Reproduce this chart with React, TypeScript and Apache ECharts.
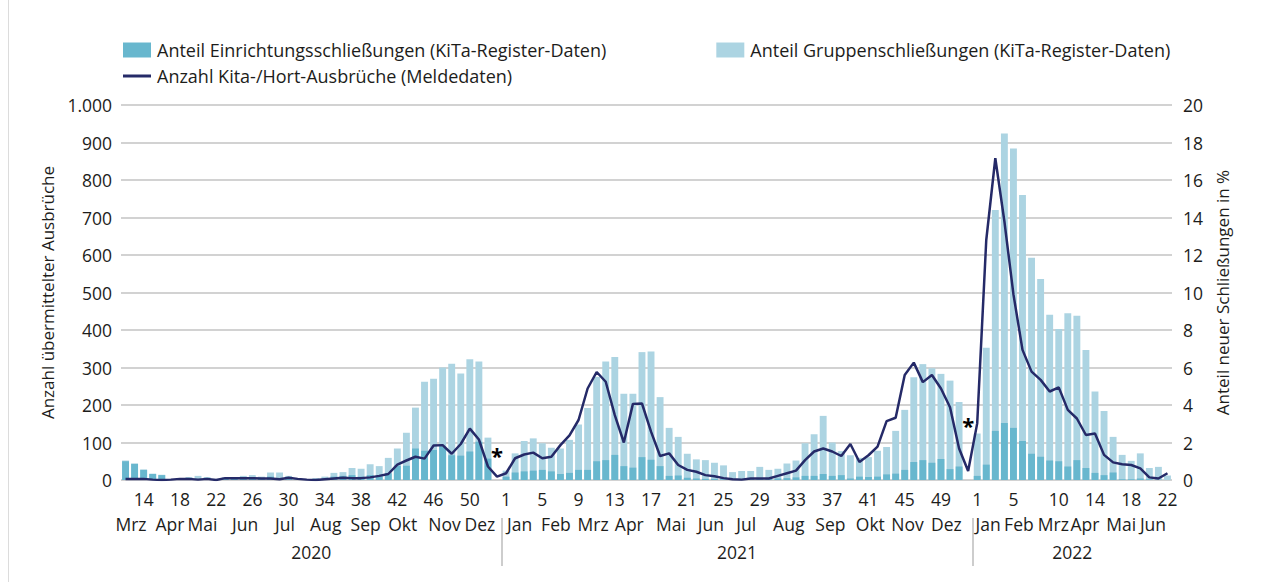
import React, { useEffect, useRef } from 'react';
import * as echarts from 'echarts';

// ---- categories: ISO calendar weeks ----
const yearSpans = [
  { year: 2020, first: 12, last: 53 },
  { year: 2021, first: 1, last: 52 },
  { year: 2022, first: 1, last: 22 },
];
const categories: string[] = [];
yearSpans.forEach((s) => {
  for (let w = s.first; w <= s.last; w++) categories.push(`${w}/${s.year}`);
});

// week tick labels shown on the axis
const weekTickLabels = [
  '14/2020', '18/2020', '22/2020', '26/2020', '30/2020', '34/2020', '38/2020', '42/2020', '46/2020', '50/2020',
  '1/2021', '5/2021', '9/2021', '13/2021', '17/2021', '21/2021', '25/2021', '29/2021', '33/2021', '37/2021', '41/2021', '45/2021', '49/2021',
  '1/2022', '5/2022', '10/2022', '14/2022', '18/2022', '22/2022',
];

// month labels (position in weeks from start of series)
const monthNames = [
  'Mrz', 'Apr', 'Mai', 'Jun', 'Jul', 'Aug', 'Sep', 'Okt', 'Nov', 'Dez',
  'Jan', 'Feb', 'Mrz', 'Apr', 'Mai', 'Jun', 'Jul', 'Aug', 'Sep', 'Okt', 'Nov', 'Dez',
  'Jan', 'Feb', 'Mrz', 'Apr', 'Mai', 'Jun',
];
const monthPositions = [
  1.1, 5.4, 9.0, 13.7, 18.1, 22.6, 27.0, 31.1, 35.7, 39.6,
  44.0, 48.0, 52.1, 56.1, 60.7, 65.1, 69.0, 73.7, 78.3, 82.7, 86.8, 91.1,
  95.7, 99.1, 102.9, 106.4, 110.4, 113.9,
];
const yearNames = ['2020', '2021', '2022'];
const yearPositions = [21, 68, 105];
const yearSeparators = [42, 94];

// ---- series values ----
// Anteil Einrichtungsschließungen in % (KiTa-Register)
const facilityShare2020 = [1.0, 0.86, 0.54, 0.32, 0.26, 0, 0.04, 0.08, 0.06, 0.06, 0.02, 0.06, 0.06, 0.08, 0.1, 0.08, 0.18, 0.1, 0.1, 0.02, 0, 0.04, 0.06, 0.18, 0.22, 0.26, 0.18, 0.26, 0.2, 0.36, 0.76, 0.76, 1.68, 1.56, 1.6, 1.8, 1.32, 1.3, 1.52, 2.04, 1.14, null];
const facilityShare2021 = [0.18, 0.4, 0.46, 0.5, 0.54, 0.46, 0.32, 0.38, 0.54, 0.54, 1.0, 1.06, 1.34, 0.74, 0.66, 1.22, 1.08, 0.74, 0.22, 0.24, 0.12, 0.08, 0.06, 0.06, 0.04, 0.04, 0.04, 0.06, 0.06, 0.06, 0.08, 0.1, 0.14, 0.22, 0.22, 0.32, 0.22, 0.26, 0.08, 0.18, 0.16, 0.18, 0.3, 0.34, 0.54, 0.96, 1.06, 0.92, 1.12, 0.58, 0.72, null];
const facilityShare2022 = [0.22, 0.82, 2.62, 3.04, 2.78, 2.08, 1.4, 1.24, 1.04, 1.0, 0.72, 1.06, 0.64, 0.38, 0.26, 0.4, 0.04, 0.04, 0.08, 0.04, 0.02, 0];

// Anteil Gruppenschließungen in % (KiTa-Register)
const groupShare2020 = [1.04, 0.88, 0.56, 0.34, 0.28, 0.04, 0.1, 0.16, 0.22, 0.16, 0.06, 0.14, 0.14, 0.22, 0.26, 0.18, 0.4, 0.4, 0.22, 0.06, 0.02, 0.1, 0.18, 0.38, 0.42, 0.64, 0.6, 0.84, 0.74, 1.18, 1.68, 2.52, 3.86, 5.24, 5.4, 6.0, 6.2, 5.68, 6.44, 6.32, 2.26, null];
const groupShare2021 = [0.5, 1.42, 2.08, 2.22, 1.96, 1.72, 1.68, 2.14, 2.96, 3.84, 5.5, 6.32, 6.56, 4.6, 4.6, 6.82, 6.86, 4.42, 2.78, 2.3, 1.4, 1.1, 1.06, 0.92, 0.78, 0.42, 0.48, 0.48, 0.7, 0.54, 0.6, 0.88, 1.04, 1.96, 2.44, 3.42, 2.0, 1.54, 1.32, 1.18, 1.22, 1.56, 1.76, 2.62, 3.74, 5.48, 6.18, 5.96, 5.66, 5.3, 4.16, null];
const groupShare2022 = [2.48, 7.06, 14.4, 18.48, 17.68, 15.2, 11.86, 10.72, 8.82, 8.06, 8.9, 8.76, 6.94, 4.72, 3.68, 2.3, 1.34, 1.02, 1.42, 0.64, 0.7, 0.24];

// Anzahl Kita-/Hort-Ausbrüche (Meldedaten)
const outbreaks2020 = [3, 3, 3, 1, 0, 1, 3, 3, 1, 3, 0, 5, 5, 5, 5, 4, 4, 2, 6, 3, 1, 0, 2, 4, 6, 5, 5, 7, 11, 16, 41, 52, 62, 57, 92, 93, 70, 96, 137, 108, 36, 9];
const outbreaks2021 = [18, 58, 68, 73, 58, 62, 93, 119, 160, 244, 288, 262, 173, 100, 203, 204, 129, 64, 71, 40, 27, 22, 13, 10, 5, 2, 1, 4, 4, 4, 11, 18, 25, 53, 76, 84, 76, 64, 96, 48, 66, 89, 157, 166, 280, 313, 261, 280, 244, 194, 84, 24];
const outbreaks2022 = [151, 640, 858, 690, 495, 347, 289, 267, 236, 247, 187, 164, 120, 124, 67, 47, 42, 40, 31, 7, 4, 18];

// asterisk annotations (category, left-axis value)
const asteriskMarks = [
  { category: '53/2020', value: 67 },
  { category: '52/2021', value: 147 },
];

const facilityShare = [...facilityShare2020, ...facilityShare2021, ...facilityShare2022];
const groupShare = [...groupShare2020, ...groupShare2021, ...groupShare2022];
const outbreaks = [...outbreaks2020, ...outbreaks2021, ...outbreaks2022];

const NAME_FAC = 'Anteil Einrichtungsschließungen (KiTa-Register-Daten)';
const NAME_GRP = 'Anteil Gruppenschließungen (KiTa-Register-Daten)';
const NAME_OUT = 'Anzahl Kita-/Hort-Ausbrüche (Meldedaten)';

const FONT = '"Open Sans"';
const TXT = '#1d1d1b';
const GRID_COLOR = '#c3c3c3';
const LINE_COLOR = '#252a68';

function lookup(names: string[], positions: number[], v: number) {
  for (let i = 0; i < positions.length; i++) {
    if (Math.abs(positions[i] - v) < 1e-6) return names[i];
  }
  return '';
}

export default function App() {
  const ref = useRef<HTMLDivElement>(null);
  useEffect(() => {
    if (!ref.current) return;
    const chart = echarts.init(ref.current, undefined, { renderer: 'svg' });
    const n = categories.length;
    const textStyle = { color: TXT, fontSize: 17.5, fontFamily: FONT };
    const legendText = { color: TXT, fontSize: 18, fontFamily: FONT, padding: [0, 0, 0, 1] };
    const nameText = { color: TXT, fontSize: 17, fontFamily: FONT };
    chart.setOption({
      animation: false,
      backgroundColor: '#ffffff',
      textStyle: { fontFamily: FONT },
      grid: { left: 121, right: 96, top: 105, bottom: 102, containLabel: false },
      legend: [
        {
          data: [NAME_FAC, NAME_GRP],
          left: 118,
          top: 36,
          itemWidth: 28,
          itemHeight: 15,
          itemGap: 110,
          icon: 'rect',
          textStyle: legendText,
          selectedMode: false,
        },
        {
          data: [NAME_OUT],
          left: 118,
          top: 62,
          itemWidth: 28,
          itemHeight: 3,
          icon: 'rect',
          textStyle: legendText,
          selectedMode: false,
        },
      ],
      xAxis: [
        {
          type: 'category',
          data: categories,
          position: 'bottom',
          axisLine: { show: false },
          axisTick: { show: false },
          axisLabel: {
            ...textStyle,
            margin: 10,
            interval: (_i: number, v: string) => weekTickLabels.includes(v),
            formatter: (v: string) => v.split('/')[0],
          },
          splitLine: { show: false },
        },
        {
          type: 'value',
          min: 0,
          max: n,
          position: 'bottom',
          offset: 0,
          axisLine: { show: false },
          axisTick: { show: false },
          splitLine: { show: false },
          axisLabel: {
            ...textStyle,
            margin: 35,
            customValues: monthPositions,
            formatter: (v: number) => lookup(monthNames, monthPositions, v),
          },
        },
        {
          type: 'value',
          min: 0,
          max: n,
          position: 'bottom',
          offset: 38,
          axisLine: { show: false },
          axisTick: {
            show: true,
            customValues: yearSeparators,
            length: 48,
            inside: false,
            lineStyle: { color: '#bdbdbd', width: 1.5 },
          },
          splitLine: { show: false },
          axisLabel: {
            ...textStyle,
            margin: 25,
            customValues: yearPositions,
            formatter: (v: number) => lookup(yearNames, yearPositions, v),
          },
        },
      ],
      yAxis: [
        {
          type: 'value',
          min: 0,
          max: 1000,
          interval: 100,
          position: 'left',
          name: 'Anzahl übermittelter Ausbrüche',
          nameLocation: 'middle',
          nameGap: 64,
          nameRotate: 90,
          nameTextStyle: nameText,
          axisLine: { show: false },
          axisTick: { show: false },
          axisLabel: {
            ...textStyle,
            margin: 9,
            formatter: (v: number) => v.toLocaleString('de-DE'),
          },
          splitLine: { lineStyle: { color: GRID_COLOR, width: 1.5 } },
        },
        {
          type: 'value',
          min: 0,
          max: 20,
          interval: 2,
          position: 'right',
          name: 'Anteil neuer Schließungen in %',
          nameLocation: 'middle',
          nameGap: 38,
          nameRotate: 90,
          nameTextStyle: nameText,
          axisLine: { show: false },
          axisTick: { show: false },
          axisLabel: { ...textStyle, margin: 11 },
          splitLine: { show: false },
        },
      ],
      series: [
        {
          name: NAME_GRP,
          type: 'bar',
          xAxisIndex: 0,
          yAxisIndex: 1,
          data: groupShare,
          barWidth: '76%',
          barGap: '-100%',
          itemStyle: { color: '#acd4e2' },
          z: 1,
        },
        {
          name: NAME_FAC,
          type: 'bar',
          xAxisIndex: 0,
          yAxisIndex: 1,
          data: facilityShare,
          barWidth: '76%',
          barGap: '-100%',
          itemStyle: { color: '#68b7ce' },
          z: 2,
        },
        {
          name: NAME_OUT,
          type: 'line',
          xAxisIndex: 0,
          yAxisIndex: 0,
          data: outbreaks,
          symbol: 'none',
          lineStyle: { color: LINE_COLOR, width: 2.5 },
          itemStyle: { color: LINE_COLOR },
          z: 3,
          markPoint: {
            symbol: 'circle',
            symbolSize: 1,
            itemStyle: { color: 'rgba(0,0,0,0)' },
            label: {
              show: true,
              position: 'inside',
              formatter: '*',
              color: '#000',
              fontSize: 22,
              fontWeight: 'bold',
              fontFamily: FONT,
            },
            data: asteriskMarks.map((m) => ({ coord: [m.category, m.value] })),
          },
        },
      ],
      graphic: [
        {
          type: 'line',
          shape: { x1: 8.5, y1: 0, x2: 8.5, y2: 582 },
          style: { stroke: '#dcdcdc', lineWidth: 1 },
          silent: true,
        },
      ],
    });
    return () => chart.dispose();
  }, []);
  return (
    <div
      ref={ref}
      style={{ position: 'fixed', left: 0, top: 0, width: 1268, height: 582, background: '#fff' }}
    />
  );
}
